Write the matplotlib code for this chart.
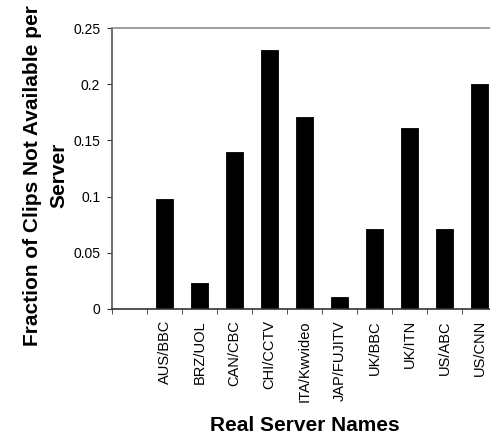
import numpy as np
import matplotlib
matplotlib.use("Agg")
from matplotlib import pyplot as plt

# data (first category is empty)
servers = ["", "AUS/BBC", "BRZ/UOL", "CAN/CBC", "CHI/CCTV", "ITA/Kwvideo",
           "JAP/FUJITV", "UK/BBC", "UK/ITN", "US/ABC", "US/CNN"]
fraction = [0.0, 0.098, 0.023, 0.140, 0.230, 0.171,
            0.011, 0.071, 0.161, 0.071, 0.200]
yticks = [0, 0.05, 0.1, 0.15, 0.2, 0.25]
yticklabels = ["0", "0.05", "0.1", "0.15", "0.2", "0.25"]

plt.rcParams['font.family'] = ['Liberation Sans', 'DejaVu Sans']

fig = plt.figure(figsize=(4.9, 4.34), dpi=100)
W, H = 490.0, 434.0
left, right, top, bottom = 112, 497, 28, 309
ax = fig.add_axes([left / W, 1 - bottom / H, (right - left) / W, (bottom - top) / H])

x = np.arange(len(servers))
vals = [v if v > 0 else np.nan for v in fraction]
ax.bar(x, vals, width=0.47, color='black', edgecolor='black', linewidth=0.6)

ax.set_xlim(-0.5, len(servers) - 0.5)
ax.set_ylim(0, 0.25)

ax.set_xticks(x)
ax.set_xticklabels(servers, rotation=90, fontsize=10.5, va='top')
ax.tick_params(axis='x', which='major', length=0, pad=8)
ax.set_xticks(np.arange(-0.5, len(servers)), minor=True)
ax.tick_params(axis='x', which='minor', length=3.5, direction='out', color='#333333')

ax.set_yticks(yticks)
ax.set_yticklabels(yticklabels, fontsize=10)
ax.tick_params(axis='y', length=3.5, direction='out', color='#333333', pad=5)

ax.spines['right'].set_visible(False)
ax.spines['top'].set_color('#8c8c8c')
ax.spines['top'].set_linewidth(1.2)
ax.spines['left'].set_color('#555555')
ax.spines['left'].set_linewidth(1.2)
ax.spines['bottom'].set_color('#333333')
ax.spines['bottom'].set_linewidth(1.2)

ax.set_ylabel("Fraction of Clips Not Available per\nServer", fontsize=15,
              fontweight='bold', linespacing=1.5)
ax.yaxis.set_label_coords(-0.113, 0.474)
ax.set_xlabel("Real Server Names", fontsize=15, fontweight='bold')
ax.xaxis.set_label_coords(0.5, -0.434)
ax.xaxis.label.set_va('baseline')

fig.savefig("out.png", dpi=100)
